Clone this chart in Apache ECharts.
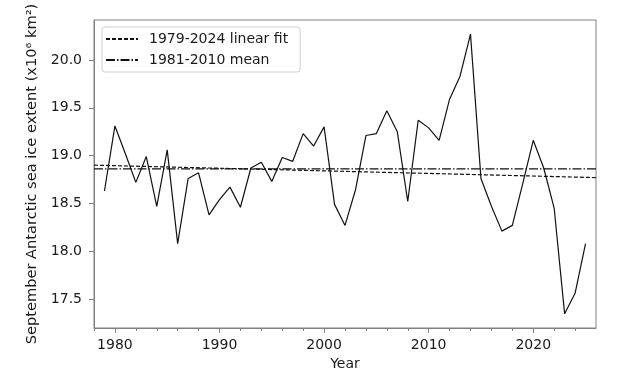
<!DOCTYPE html>
<html>
<head>
<meta charset="utf-8">
<script src="https://cdn.jsdelivr.net/npm/echarts@6/dist/echarts.min.js"></script>
<style>html,body{margin:0;padding:0;background:#fff}#c{width:627px;height:386px}</style>
</head>
<body>
<div id="c"></div>
<script>
const years = [1979,1980,1981,1982,1983,1984,1985,1986,1987,1988,1989,1990,1991,1992,1993,1994,1995,1996,1997,1998,1999,2000,2001,2002,2003,2004,2005,2006,2007,2008,2009,2010,2011,2012,2013,2014,2015,2016,2017,2018,2019,2020,2021,2022,2023,2024,2025];
const extent = [18.63,19.31,19.02,18.72,18.99,18.47,19.06,18.08,18.76,18.82,18.38,18.54,18.67,18.46,18.87,18.93,18.73,18.98,18.94,19.23,19.10,19.30,18.49,18.27,18.64,19.21,19.23,19.47,19.25,18.52,19.37,19.29,19.16,19.59,19.83,20.27,18.76,18.47,18.21,18.27,18.71,19.16,18.87,18.45,17.345,17.56,18.08];
const fitYears = [1978, 2026];
const fitValues = [18.90, 18.77];
const meanYears = [1978, 2026];
const meanValues = [18.862, 18.862];
const xMajorTicks = [1980,1990,2000,2010,2020];
const xMinorTicks = [1978,1982,1984,1986,1988,1992,1994,1996,1998,2002,2004,2006,2008,2012,2014,2016,2018,2022,2024];
const yTicks = [17.5,18.0,18.5,19.0,19.5,20.0];
const fitName = '1979-2024 linear fit';
const meanName = '1981-2010 mean';

const font = 'DejaVu Sans';
const axisCol = '#808080';
const chart = echarts.init(document.getElementById('c'), null, {renderer: 'canvas'});
chart.setOption({
  animation: false,
  backgroundColor: '#fff',
  grid: {left: 94, right: 31, top: 20, bottom: 58, show: true, borderColor: axisCol, borderWidth: 1, backgroundColor: 'transparent'},
  legend: {
    orient: 'vertical', left: 102, top: 27,
    data: [fitName, meanName],
    itemWidth: 32, itemHeight: 14, itemGap: 7,
    padding: [5, 12, 5, 3],
    borderColor: '#d0d0d0', borderWidth: 1, borderRadius: 3,
    backgroundColor: '#fff',
    itemStyle: {opacity: 0},
    textStyle: {fontFamily: font, fontSize: 14, color: '#1a1a1a', padding: [0, 0, 0, 6]}
  },
  xAxis: [{
    type: 'value', min: 1978, max: 2026,
    name: 'Year', nameLocation: 'middle', nameGap: 26,
    nameTextStyle: {fontFamily: font, fontSize: 14, color: '#1a1a1a'},
    axisLine: {show: true, lineStyle: {color: axisCol}},
    axisTick: {show: true, customValues: xMajorTicks, length: 5, lineStyle: {color: axisCol}},
    axisLabel: {customValues: xMajorTicks, fontFamily: font, fontSize: 14, color: '#1a1a1a', margin: 10,
      formatter: v => String(v)},
    splitLine: {show: false}
  }, {
    type: 'value', min: 1978, max: 2026, position: 'bottom',
    axisLine: {show: false},
    axisTick: {show: true, customValues: xMinorTicks, length: 3, lineStyle: {color: axisCol}},
    axisLabel: {show: false},
    splitLine: {show: false}
  }],
  yAxis: {
    type: 'value', min: 17.197, max: 20.418,
    name: 'September Antarctic sea ice extent (x10⁶ km²)', nameLocation: 'middle', nameGap: 47,
    nameTextStyle: {fontFamily: font, fontSize: 14.6, color: '#1a1a1a'},
    axisLine: {show: true, lineStyle: {color: axisCol}},
    axisTick: {show: true, customValues: yTicks, length: 5, lineStyle: {color: axisCol}},
    axisLabel: {customValues: yTicks, fontFamily: font, fontSize: 14, color: '#1a1a1a', margin: 12,
      formatter: v => v.toFixed(1)},
    splitLine: {show: false}
  },
  series: [{
    type: 'line', name: 'extent', symbol: 'none',
    data: years.map((y, i) => [y, extent[i]]),
    lineStyle: {color: '#111', width: 1.2}
  }, {
    type: 'line', name: fitName, symbol: 'none',
    data: fitYears.map((y, i) => [y, fitValues[i]]),
    lineStyle: {color: '#111', width: 1.2, type: [4, 2]},
    itemStyle: {color: '#111'}
  }, {
    type: 'line', name: meanName, symbol: 'none',
    data: meanYears.map((y, i) => [y, meanValues[i]]),
    lineStyle: {color: '#111', width: 1.2, type: [9, 2, 1.5, 2]},
    itemStyle: {color: '#111'}
  }]
});
</script>
</body>
</html>
